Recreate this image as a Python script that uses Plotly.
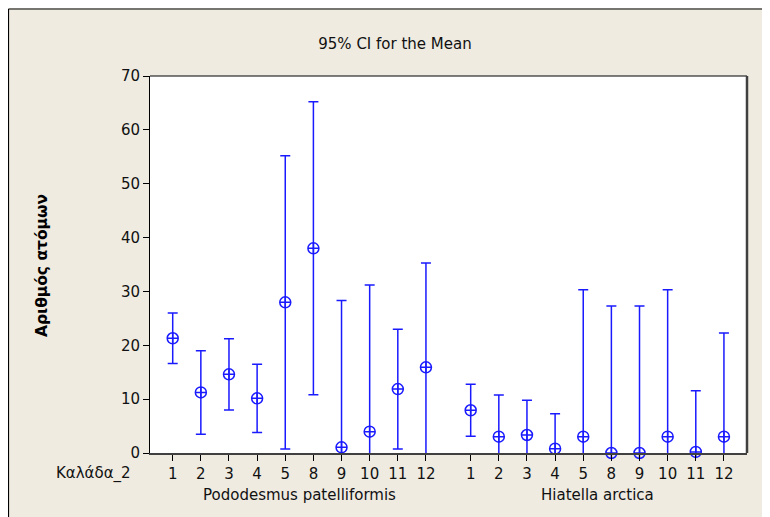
import plotly.graph_objects as go

# ---- data ----
tick_labels = ["1", "2", "3", "4", "5", "8", "9", "10", "11", "12"]
groups = ["Pododesmus patelliformis", "Hiatella arctica"]
group_gap = 1.59  # extra spacing between groups (in slots)

podo_mean = [21.3, 11.25, 14.6, 10.15, 27.97, 38.0, 1.05, 3.96, 11.87, 15.9]
podo_ci = [4.7, 7.75, 6.6, 6.35, 27.23, 27.2, 27.25, 27.24, 11.13, 19.4]
hiat_mean = [7.93, 3.03, 3.34, 0.8, 3.03, 0.0, 0.0, 3.03, 0.2, 3.03]
hiat_ci = [4.83, 7.74, 6.44, 6.5, 27.27, 27.3, 27.3, 27.27, 11.37, 19.27]

n = len(tick_labels)
x1 = [i + 1 for i in range(n)]
x2 = [n + group_gap + i for i in range(n)]
xs = x1 + x2
means = podo_mean + hiat_mean
cis = podo_ci + hiat_ci
labels = tick_labels + tick_labels

BLUE = "#1a1aff"
FONT = "DejaVu Sans"
BG = "#EFEBE1"
TXT = "#111111"

fig = go.Figure()
# error bars (clipped to plot area)
fig.add_trace(go.Scatter(
    x=xs, y=means, mode="markers",
    marker=dict(size=1, opacity=0, color=BLUE),
    error_y=dict(type="data", array=cis, symmetric=True, color=BLUE,
                 thickness=1.5, width=5),
    hoverinfo="skip", showlegend=False,
))
# mean markers
fig.add_trace(go.Scatter(
    x=xs, y=means, mode="markers",
    marker=dict(symbol="circle-cross-open", size=11, color=BLUE,
                line=dict(width=1.5, color=BLUE)),
    cliponaxis=False, showlegend=False,
))

# page offset (body margin) -> figure coordinates
OFF = 8
W, H = 770 - OFF, 517 - OFF
# plot area in page pixels: x 150..747, y 76..453
ml = 150 - OFF
mr = W - (747 - OFF)
mt = 76 - OFF
mb = H - (453 - OFF)
pw, ph = W - ml - mr, H - mt - mb

def px_x(p):
    return (p - OFF - ml) / pw

def px_y(p):
    return (H - mb - (p - OFF)) / ph

shapes = [
    # plot frame top and right
    dict(type="line", xref="paper", yref="paper", x0=0, x1=1, y0=1, y1=1,
         line=dict(color="black", width=1)),
    dict(type="line", xref="paper", yref="paper", x0=1, x1=1, y0=0, y1=1,
         line=dict(color="#404040", width=2.5)),
    # outer border (top and left)
    dict(type="line", xref="paper", yref="paper", x0=px_x(8.5), x1=px_x(790),
         y0=px_y(9), y1=px_y(9), line=dict(color="black", width=1.2)),
    dict(type="line", xref="paper", yref="paper", x0=px_x(8.5), x1=px_x(8.5),
         y0=px_y(9), y1=px_y(540), line=dict(color="black", width=1.2)),
]

annotations = [
    dict(text="Αριθμός ατόμων", xref="paper", yref="paper", x=px_x(42),
         y=px_y(266), textangle=-90, showarrow=False,
         font=dict(family=FONT, size=15.5, color="black", weight="bold"),
         xanchor="center", yanchor="middle"),
    dict(text="Καλάδα_2", xref="paper", yref="paper", x=px_x(133),
         y=px_y(473), showarrow=False, xanchor="right", yanchor="middle",
         font=dict(family=FONT, size=15, color=TXT)),
    dict(text=groups[0], xref="x", yref="paper", x=sum(x1) / n,
         y=px_y(495), showarrow=False, xanchor="center", yanchor="middle",
         font=dict(family=FONT, size=15, color=TXT)),
    dict(text=groups[1], xref="x", yref="paper", x=sum(x2) / n,
         y=px_y(495), showarrow=False, xanchor="center", yanchor="middle",
         font=dict(family=FONT, size=15, color=TXT)),
]

fig.update_layout(
    width=W, height=H,
    margin=dict(l=ml, r=mr, t=mt, b=mb),
    paper_bgcolor=BG, plot_bgcolor="white",
    font=dict(family=FONT, size=15, color=TXT),
    title=dict(text="95% CI for the Mean", x=(395 - OFF) / W, xanchor="center",
               y=1 - (44 - OFF) / H, yanchor="middle",
               font=dict(family=FONT, size=15, color=TXT)),
    xaxis=dict(range=[0.193, 21.41], tickvals=xs, ticktext=labels,
               ticks="outside", ticklen=6, tickcolor="black", tickwidth=1,
               showline=True, linecolor="#404040", linewidth=2,
               showgrid=False, zeroline=False, fixedrange=True),
    yaxis=dict(range=[0, 70], dtick=10, ticks="outside", ticklen=6,
               tickcolor="black", tickwidth=1,
               showline=True, linecolor="black", linewidth=1,
               showgrid=False, zeroline=False, fixedrange=True),
    shapes=shapes, annotations=annotations,
)

fig.write_html("out.html")
